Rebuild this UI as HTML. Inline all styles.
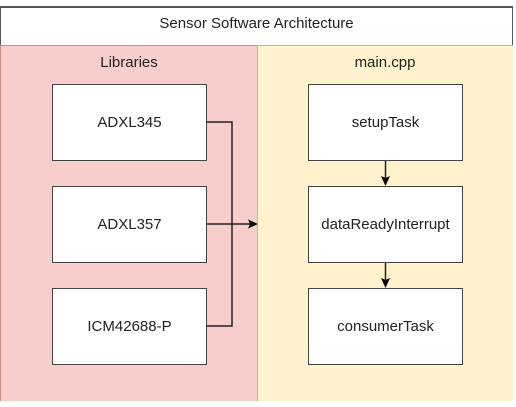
<!DOCTYPE html>
<html><head><style>
body{margin:0;width:516px;height:407px;background:#fff;position:relative;overflow:hidden;font-family:"Liberation Sans",Arial,sans-serif;}
div{position:absolute;box-sizing:border-box;}
.t{font-size:15px;color:#222;text-align:center;}
.b{background:#fff;border:1.5px solid #444;display:flex;align-items:center;justify-content:center;font-size:15px;color:#222;}
</style></head><body>
<div style="left:0;top:6px;width:513px;height:40px;border:1px solid #555;border-top:2px solid #555;border-bottom:none;background:#fff;"></div>
<div class="t" style="left:0;top:15px;width:513px;">Sensor Software Architecture</div>
<div style="left:0;top:45px;width:258px;height:356px;background:#f8cecc;border-top:1.5px solid #d08a88;border-left:1px solid #d08a88;"></div>
<div style="left:257px;top:45px;width:256px;height:356px;background:#fff2cc;border-top:1.5px solid #d6b656;border-left:1px solid #d6b656;"></div>
<div class="t" style="left:0;top:54px;width:258px;">Libraries</div>
<div class="t" style="left:257px;top:54px;width:256px;">main.cpp</div>
<div class="b" style="left:52px;top:84px;width:155px;height:77px;">ADXL345</div>
<div class="b" style="left:52px;top:186px;width:155px;height:77px;">ADXL357</div>
<div class="b" style="left:52px;top:288px;width:155px;height:77px;">ICM42688-P</div>
<div class="b" style="left:308px;top:84px;width:155px;height:77px;">setupTask</div>
<div class="b" style="left:308px;top:186px;width:155px;height:77px;">dataReadyInterrupt</div>
<div class="b" style="left:308px;top:288px;width:155px;height:77px;">consumerTask</div>
<svg width="516" height="407" style="position:absolute;left:0;top:0">
<g stroke="#222" stroke-width="1.5" fill="none">
<polyline points="207,122 232,122 232,326 207,326"/>
<line x1="207" y1="224" x2="250" y2="224"/>
<line x1="385.5" y1="161" x2="385.5" y2="179"/>
<line x1="385.5" y1="263" x2="385.5" y2="281"/>
</g>
<g fill="#000">
<polygon points="258,224 248,219.5 250,224 248,228.5"/>
<polygon points="385.5,186 381,176 385.5,178 390,176"/>
<polygon points="385.5,288 381,278 385.5,280 390,278"/>
</g>
</svg>
</body></html>
